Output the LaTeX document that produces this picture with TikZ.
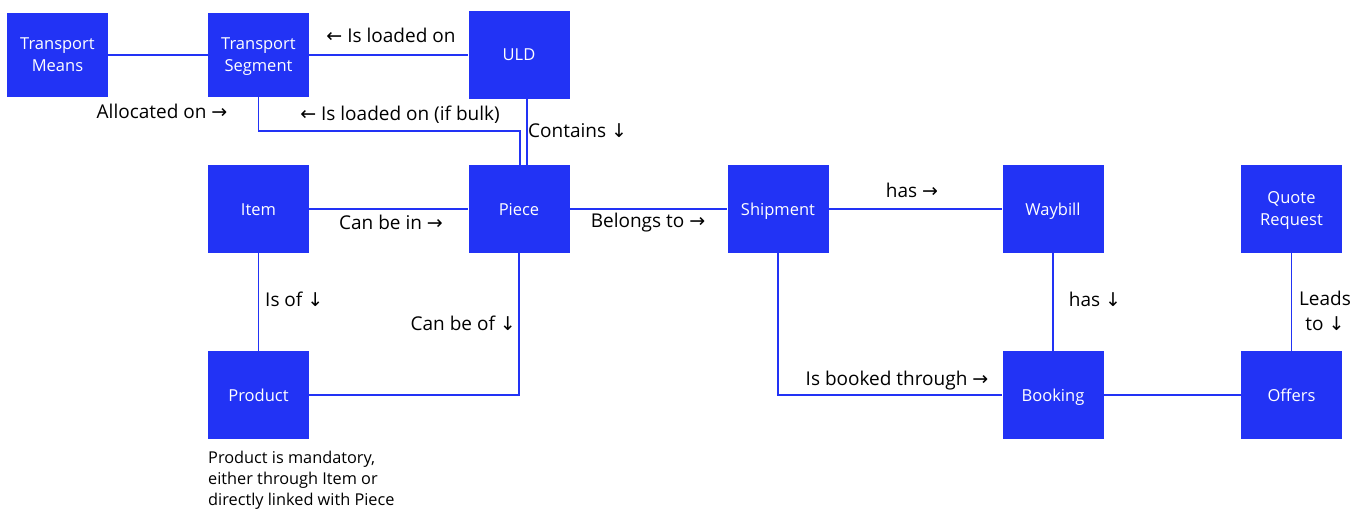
\documentclass[tikz,border=0pt]{standalone}
\usepackage{fontspec}
\setmainfont{Open Sans}
\newfontfamily\arr{DejaVu Sans}
\definecolor{blu}{RGB}{34,51,245}
\begin{document}
\begin{tikzpicture}[x=1pt,y=-1pt,
 box/.style={fill=blu,draw=none,text=white,minimum width=101pt,minimum height=88pt,inner sep=0pt,align=center,font=\fontsize{16.5}{22}\selectfont},
 one/.style={text height=12pt,text depth=0pt},
 two/.style={text depth=0pt},
 lbl/.style={font=\fontsize{19}{25}\selectfont,inner sep=0pt,text=black},
 note/.style={font=\fontsize{16.3}{21}\selectfont,inner sep=0pt,text=black,align=left},
 link/.style={draw=blu,line width=1.8pt}]
\useasboundingbox (0,0) rectangle (1369,511);
% boxes
\node[box,two,minimum height=84pt] (tm) at (57.5,55) {Transport\\Means};
\node[box,two,minimum height=84pt] (ts) at (258.5,55) {Transport\\Segment};
\node[box,one] (uld) at (519,55) {ULD};
\node[box,one] (item) at (258.5,209) {Item};
\node[box,one] (piece) at (519,209) {Piece};
\node[box,one] (ship) at (778,209) {Shipment};
\node[box,one] (way) at (1053,209) {Waybill};
\node[box,two] (quote) at (1291.5,209) {Quote\\Request};
\node[box,one] (prod) at (258.5,395) {Product};
\node[box,one] (book) at (1053,395) {Booking};
\node[box,one] (off) at (1291.5,395) {Offers};
% connectors
\draw[link] (tm) -- (ts);
\draw[link] (ts) -- (uld);
\draw[link] (ts.south) -- ++(0,34) -| ([xshift=1pt]piece.north);
\draw[link] ([xshift=8pt]uld.south) -- ([xshift=8pt]piece.north);
\draw[link] (item) -- (piece);
\draw[link] (piece) -- (ship);
\draw[link] (ship) -- (way);
\draw[link] (item) -- (prod);
\draw[link] (piece.south) |- (prod.east);
\draw[link] (ship.south) |- (book.west);
\draw[link] (way) -- (book);
\draw[link] (book) -- (off);
\draw[link] (quote) -- (off);
% labels
\node[lbl] (l1) at (391,35) {{\arr ←} Is loaded on};
\node[lbl] (l2) at (162,111) {Allocated on {\arr →}};
\node[lbl] (l3) at (400,115) {{\arr ←} Is loaded on (if bulk)};
\node[lbl,anchor=west] (l4) at (528,131) {Contains {\arr ↓}};
\node[lbl] (l5) at (391,222) {Can be in {\arr →}};
\node[lbl] (l6) at (648,223) {Belongs to {\arr →}};
\node[lbl] (l7) at (912,190) {has {\arr →}};
\node[lbl,anchor=west] (l8) at (265,299) {Is of {\arr ↓}};
\node[lbl,anchor=east] (l9) at (516,323) {Can be of {\arr ↓}};
\node[lbl] (l10) at (1095,299) {has {\arr ↓}};
\node[lbl,align=center] (l11) at (1325,311) {Leads\\to {\arr ↓}};
\node[lbl] (l12) at (897,381) {Is booked through {\arr →}};
\node[note,anchor=north west] (n1) at (208,451) {Product is mandatory,\\either through Item or\\directly linked with Piece};
\end{tikzpicture}
\end{document}
